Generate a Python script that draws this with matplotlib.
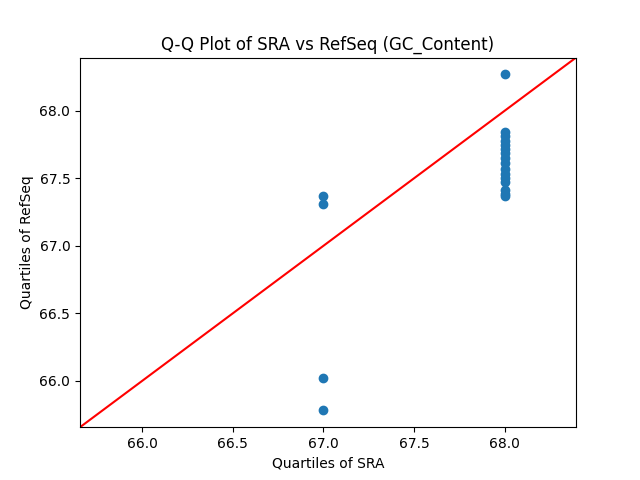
import numpy as np
import matplotlib
matplotlib.use('Agg')
import matplotlib.pyplot as plt

# quantiles
sra_q = [67, 67, 67, 67, 68, 68, 68, 68, 68, 68, 68, 68, 68, 68, 68, 68, 68, 68, 68, 68]
refseq_q = [65.78, 66.02, 67.31, 67.37, 67.37, 67.38, 67.41, 67.47, 67.50, 67.53,
            67.57, 67.61, 67.65, 67.69, 67.72, 67.75, 67.78, 67.81, 67.84, 68.27]

fig, ax = plt.subplots(figsize=(6.4, 4.8), dpi=100)
ax.scatter(sra_q, refseq_q)

lims = [min(ax.get_xlim()[0], ax.get_ylim()[0]),
        max(ax.get_xlim()[1], ax.get_ylim()[1])]
ax.plot(lims, lims, 'r-')
ax.set_xlim(lims)
ax.set_ylim(lims)

ax.set_xlabel('Quartiles of SRA')
ax.set_ylabel('Quartiles of RefSeq')
ax.set_title('Q-Q Plot of SRA vs RefSeq (GC_Content)')

fig.savefig('out.png')
